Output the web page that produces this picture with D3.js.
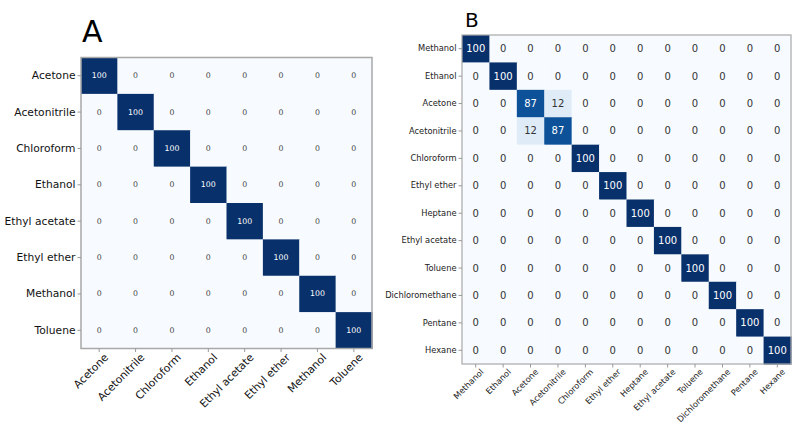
<!DOCTYPE html>
<html>
<head>
<meta charset="utf-8">
<script src="https://cdn.jsdelivr.net/npm/d3@7"></script>
<style>
  html, body { margin: 0; padding: 0; background: #fff; }
  svg { display: block; font-family: "DejaVu Sans", sans-serif; }
</style>
</head>
<body>
<svg id="chart" width="800" height="430"></svg>
<script>
// ---- Data ----
const categoriesA = ["Acetone", "Acetonitrile", "Chloroform", "Ethanol", "Ethyl acetate", "Ethyl ether", "Methanol", "Toluene"];
const valuesA = [
  [100, 0, 0, 0, 0, 0, 0, 0],
  [0, 100, 0, 0, 0, 0, 0, 0],
  [0, 0, 100, 0, 0, 0, 0, 0],
  [0, 0, 0, 100, 0, 0, 0, 0],
  [0, 0, 0, 0, 100, 0, 0, 0],
  [0, 0, 0, 0, 0, 100, 0, 0],
  [0, 0, 0, 0, 0, 0, 100, 0],
  [0, 0, 0, 0, 0, 0, 0, 100]
];
const categoriesB = ["Methanol", "Ethanol", "Acetone", "Acetonitrile", "Chloroform", "Ethyl ether", "Heptane", "Ethyl acetate", "Toluene", "Dichloromethane", "Pentane", "Hexane"];
const valuesB = [
  [100, 0, 0, 0, 0, 0, 0, 0, 0, 0, 0, 0],
  [0, 100, 0, 0, 0, 0, 0, 0, 0, 0, 0, 0],
  [0, 0, 87, 12, 0, 0, 0, 0, 0, 0, 0, 0],
  [0, 0, 12, 87, 0, 0, 0, 0, 0, 0, 0, 0],
  [0, 0, 0, 0, 100, 0, 0, 0, 0, 0, 0, 0],
  [0, 0, 0, 0, 0, 100, 0, 0, 0, 0, 0, 0],
  [0, 0, 0, 0, 0, 0, 100, 0, 0, 0, 0, 0],
  [0, 0, 0, 0, 0, 0, 0, 100, 0, 0, 0, 0],
  [0, 0, 0, 0, 0, 0, 0, 0, 100, 0, 0, 0],
  [0, 0, 0, 0, 0, 0, 0, 0, 0, 100, 0, 0],
  [0, 0, 0, 0, 0, 0, 0, 0, 0, 0, 100, 0],
  [0, 0, 0, 0, 0, 0, 0, 0, 0, 0, 0, 100]
];
const panelLabels = ["A", "B"];

const svg = d3.select("#chart");
const color = d3.scaleSequential(d3.interpolateBlues).domain([0, 100]);

function drawPanel(opts) {
  const { cats, vals, x0, y0, size, tickFont, valFont, label, labelX, labelY, labelSize, frameW, tickColor, zeroColor } = opts;
  const g = svg.append("g");
  const x = d3.scaleBand().domain(cats).range([x0, x0 + size]);
  const y = d3.scaleBand().domain(cats).range([y0, y0 + size]);

  const cells = [];
  vals.forEach((row, i) => row.forEach((v, j) => cells.push({ r: cats[i], c: cats[j], v })));

  g.selectAll("rect.cell").data(cells).enter().append("rect")
    .attr("class", "cell")
    .attr("x", d => x(d.c)).attr("y", d => y(d.r))
    .attr("width", x.bandwidth() + 0.5).attr("height", y.bandwidth() + 0.5)
    .attr("fill", d => color(d.v));

  g.selectAll("text.val").data(cells).enter().append("text")
    .attr("class", "val")
    .attr("x", d => x(d.c) + x.bandwidth() / 2)
    .attr("y", d => y(d.r) + y.bandwidth() / 2)
    .attr("text-anchor", "middle")
    .attr("dominant-baseline", "central")
    .attr("font-size", valFont)
    .attr("fill", d => d.v > 50 ? "#ffffff" : zeroColor)
    .text(d => d.v);

  // frame
  g.append("rect")
    .attr("x", x0).attr("y", y0).attr("width", size).attr("height", size)
    .attr("fill", "none").attr("stroke", "#a8a8a8").attr("stroke-width", frameW);

  // y axis
  const ya = g.append("g").attr("transform", `translate(${x0},0)`)
    .call(d3.axisLeft(y).tickSize(3.5).tickPadding(2));
  ya.select(".domain").remove();
  ya.selectAll("line").attr("stroke", "#999");
  ya.selectAll("text").attr("font-size", tickFont).attr("fill", tickColor)
    .attr("font-family", "DejaVu Sans, sans-serif");

  // x axis
  const xa = g.append("g").attr("transform", `translate(0,${y0 + size})`)
    .call(d3.axisBottom(x).tickSize(3.5).tickPadding(2));
  xa.select(".domain").remove();
  xa.selectAll("line").attr("stroke", "#999");
  xa.selectAll("text")
    .attr("font-size", tickFont).attr("fill", tickColor)
    .attr("font-family", "DejaVu Sans, sans-serif")
    .attr("text-anchor", "end")
    .attr("y", 0).attr("dy", "0.75em")
    .attr("transform", `translate(${opts.xlOff},${opts.ylOff}) rotate(-45)`);

  svg.append("text")
    .attr("x", labelX).attr("y", labelY)
    .attr("font-size", labelSize).attr("fill", "#000")
    .attr("font-family", "DejaVu Sans, sans-serif")
    .text(label);
}

drawPanel({
  cats: categoriesA, vals: valuesA, x0: 81, y0: 57.5, size: 291,
  tickFont: 10.7, valFont: 7.8, label: panelLabels[0], labelX: 82, labelY: 42, labelSize: 30,
  frameW: 1.5, tickColor: "#111", zeroColor: "#444", xlOff: 4, ylOff: 4
});

drawPanel({
  cats: categoriesB, vals: valuesB, x0: 462, y0: 35, size: 329,
  tickFont: 8.3, valFont: 10, label: panelLabels[1], labelX: 465, labelY: 27, labelSize: 20,
  frameW: 1.2, tickColor: "#222", zeroColor: "#333", xlOff: 4, ylOff: 4
});
</script>
</body>
</html>
